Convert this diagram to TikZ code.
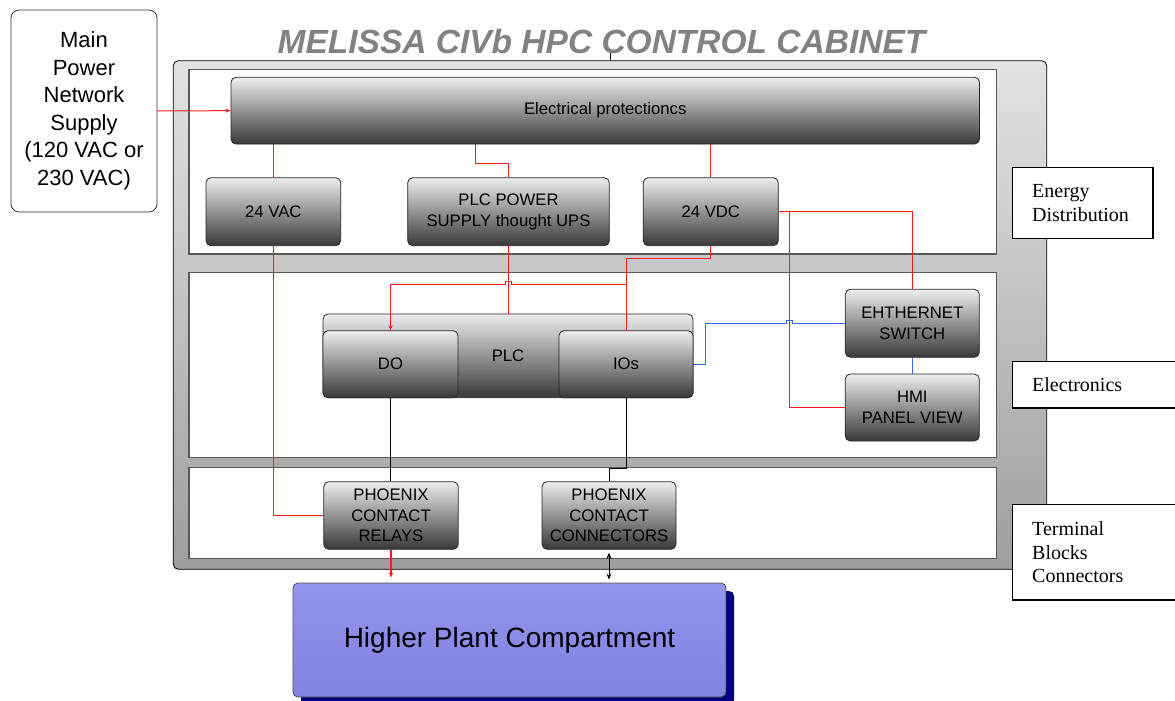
\documentclass[tikz,border=0pt]{standalone}
\usepackage{fontspec}
\setmainfont{Liberation Sans}
\newfontfamily\tagfont{Liberation Serif}
\usetikzlibrary{arrows.meta,shadows}
\definecolor{titlegray}{HTML}{828282}
\definecolor{wirered}{HTML}{FF1A1A}
\definecolor{netblue}{HTML}{3366FF}
\definecolor{plantblue}{HTML}{8A8AEE}
\definecolor{plantshade}{HTML}{000080}

\begin{document}
\begin{tikzpicture}[x=1pt,y=-1pt,
    unit/.style={draw=black!85, line width=0.8pt, rounded corners=5pt, top color=black!7, bottom color=black!78,
      align=center, inner sep=2pt, font=\fontsize{16.7}{20.5}\selectfont},
    panel/.style={draw=black!65, line width=1.2pt, fill=white, minimum width=807.7pt},
    cabinet/.style={draw=black, line width=0.8pt, rounded corners=5pt, top color=black!11, bottom color=black!38},
    tag/.style={draw=black, line width=1.4pt, fill=white, align=left, inner xsep=19.5pt, anchor=north west,
      font=\tagfont\fontsize{20}{23.5}\selectfont},
    wire/.style={draw=wirered, line width=1pt},
    net/.style={draw=netblue, line width=1pt},
    >={Stealth[length=5pt,width=4pt]}]
    \useasboundingbox (0,0) rectangle (1175,701);

    \node[cabinet, minimum width=873.4pt, minimum height=508.6pt] (cabinet) at (610,315) {};
    \node[panel, minimum height=184.7pt] (energy) at (592.85,161.65) {};
    \node[panel, minimum height=184.6pt] (electronics) at (592.85,365) {};
    \node[panel, minimum height=91pt] (terminals) at (592.85,512.8) {};

    \node[text=titlegray, anchor=base, font=\fontsize{33.5}{40}\selectfont\bfseries\itshape] (title) at (601.5,53.3) {MELISSA CIVb HPC CONTROL CABINET};
    \draw (title.base -| cabinet.north) -- (cabinet.north);

    \node[draw=black!80, line width=0.8pt, rounded corners=8pt, fill=white, minimum width=146pt, minimum height=202pt,
      align=center, font=\fontsize{22}{27.5}\selectfont] (mains) at (84,111) {Main\\Power\\Network\\Supply\\(120 VAC or\\230 VAC)};

    \node[unit, minimum width=748.5pt, minimum height=66.7pt] (prot) at (605.25,110.65) {Electrical protectioncs};
    \node[unit, minimum width=134.7pt, minimum height=68pt] (vac) at (273.35,211.7) {24 VAC};
    \node[unit, minimum width=201.6pt, minimum height=68pt] (ups) at (508.5,211.7) {PLC POWER\\SUPPLY thought UPS};
    \node[unit, minimum width=135pt, minimum height=68pt] (vdc) at (710.8,211.7) {24 VDC};

    \node[unit, minimum width=370pt, minimum height=83.7pt] (plc) at (508,355.85) {PLC};
    \node[unit, minimum width=135pt, minimum height=67pt] (do) at (390.5,364.2) {DO};
    \node[unit, minimum width=134pt, minimum height=67pt] (ios) at (626,364.2) {IOs};
    \node[unit, minimum width=134pt, minimum height=68pt] (eth) at (912.3,323.3) {EHTHERNET\\SWITCH};
    \node[unit, minimum width=134pt, minimum height=67pt] (hmi) at (912.3,407.5) {HMI\\PANEL VIEW};

    \node[unit, minimum width=134.5pt, minimum height=67.6pt] (relays) at (391,515.5) {PHOENIX\\CONTACT\\RELAYS};
    \node[unit, minimum width=134pt, minimum height=67.6pt] (conn) at (609,515.5) {PHOENIX\\CONTACT\\CONNECTORS};

    \node[draw=black!70, line width=0.8pt, rounded corners=5pt, top color=plantblue!92!white, bottom color=plantblue!94!black,
      drop shadow={shadow xshift=8pt, shadow yshift=-8pt, fill=plantshade, opacity=1},
      minimum width=433pt, minimum height=114pt, font=\fontsize{28}{34}\selectfont] (hpc) at (509.5,640) {Higher Plant Compartment};

    \node[tag, text width=101.3pt, minimum height=71pt] (energytag) at (1012,166.7) {Energy\\Distribution};
    \node[tag, text width=124.5pt, minimum height=46.6pt] (electronicstag) at (1012,360.7) {Electronics};
    \node[tag, text width=124.5pt, minimum height=95.3pt] (terminaltag) at (1012,504) {Terminal\\Blocks\\Connectors};

    \coordinate (split) at (626,284.3);
    \coordinate (hop) at (508.5,284.3);
    \coordinate (tap) at (789.5,211.7);
    \coordinate (bhop) at (789.5,323.3);

    \draw[wire,->] (mains.east) -- (prot.west);
    \draw[wire] (prot.south -| vac.north) -- (vac.north);
    \draw[wire] (vac.south) |- (relays.west);
    \draw[wire] ([xshift=-130.25pt]prot.south) |- ([yshift=13.4pt]ups.north) -- (ups.north);
    \draw[wire] (ups.south) -- (ups.south |- plc.north);
    \draw[wire] (prot.south -| vdc.north) -- (vdc.north);
    \draw[wire] (vdc.south) -- ++(0,12) -| (ios.north);
    \draw[wire,->] (split) -- ([xshift=3pt]hop) -- ++(0,-3) -- ++(-6,0) -- ++(0,3) -| (do.north);
    \draw[wire] (vdc.east) -| (eth.north);
    \draw[wire] (tap) |- (hmi.west);
    \draw[net] (ios.east) -- ++(12,0) |- ([xshift=-3pt]bhop) -- ++(0,-3) -- ++(6,0) -- ++(0,3) -- (eth.west);
    \draw[net] (eth.south) -- (hmi.north);
    \draw[line width=0.8pt] (do.south) -- (do.south |- relays.north);
    \draw[line width=0.8pt] (ios.south) -- ++(0,70.6) -| (conn.north);
    \draw[line width=0.8pt, <->, >={Stealth[length=6pt,width=5pt]}, shorten <=3pt, shorten >=3pt] (conn.south) -- (conn.south |- hpc.north);
    \draw[wire, line width=1.6pt, ->, shorten >=5pt] (relays.south) -- (relays.south |- hpc.north);
  \end{tikzpicture}
\end{document}
